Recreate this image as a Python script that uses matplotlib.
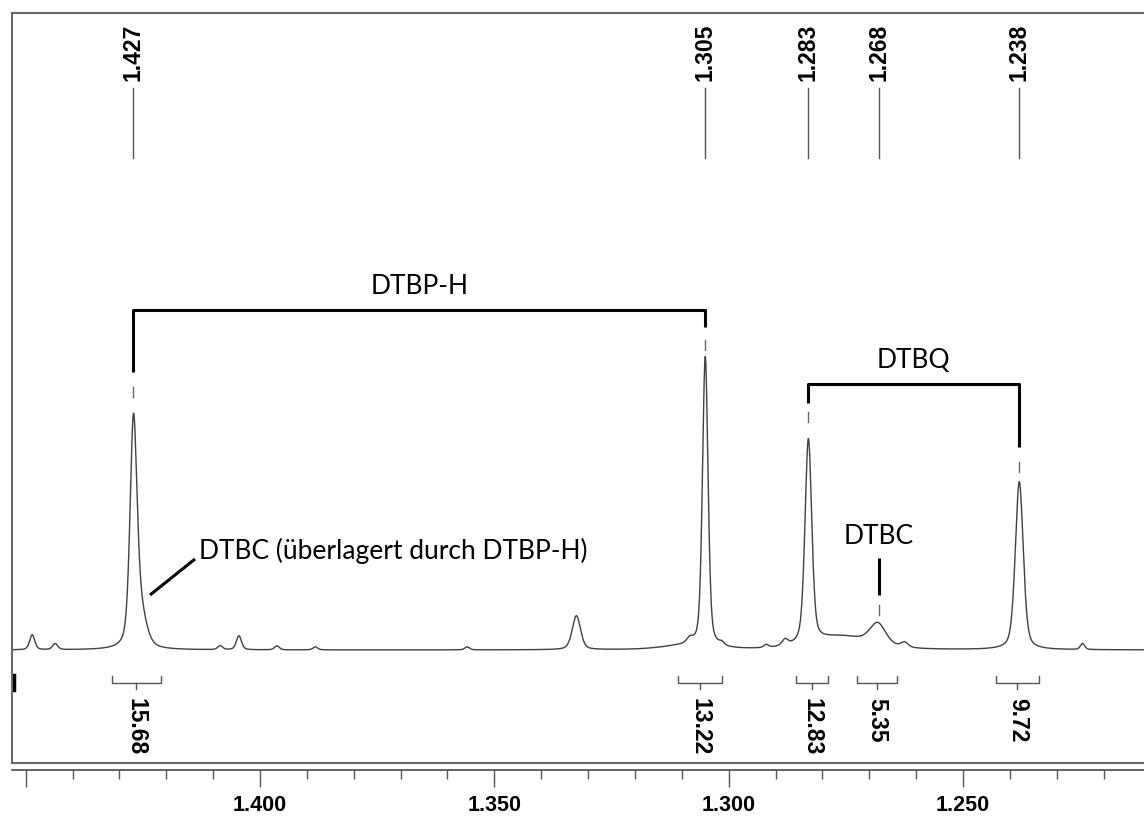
import numpy as np
import matplotlib
matplotlib.use("Agg")
import matplotlib.pyplot as plt
from matplotlib.transforms import blended_transform_factory

# ---------------- data ----------------
# Resolved signals of the 1H spectrum (chemical shift in ppm, intensity in a.u., FWHM in ppm)
peak_ppm = [1.4270, 1.4258, 1.3050, 1.2830, 1.2682, 1.2760, 1.2380, 1.3325, 1.3090]
peak_height = [210, 40, 290, 204, 21, 13, 168, 34, 4]
peak_fwhm = [0.0017, 0.0032, 0.0014, 0.0017, 0.0040, 0.0150, 0.0020, 0.0021, 0.0120]

# Small impurity / noise signals
minor_ppm = [1.4486, 1.4437, 1.4085, 1.4045, 1.3964, 1.3882, 1.3558, 1.3083, 1.3015,
             1.2920, 1.2880, 1.2625, 1.2245]
minor_height = [15, 6, 4, 14, 4, 3, 3, 5, 3, 3, 6, 5, 6]
minor_fwhm = [0.0013, 0.0013, 0.0012, 0.0013, 0.0012, 0.0012, 0.0012, 0.0015, 0.0012,
              0.0012, 0.0015, 0.0018, 0.0011]

# Peak picking labels
pick_ppm = [1.427, 1.305, 1.283, 1.268, 1.238]
pick_labels = ["1.427", "1.305", "1.283", "1.268", "1.238"]

# Integrals: (from, to) ppm and values
integral_from = [1.4316, 1.3108, 1.2856, 1.2726, 1.2430]
integral_to = [1.4211, 1.3014, 1.2788, 1.2641, 1.2338]
integral_values = ["15.68", "13.22", "12.83", "5.35", "9.72"]

# Chemical shift axis
major_ticks = [1.45, 1.40, 1.35, 1.30, 1.25]
major_labels = ["", "1.400", "1.350", "1.300", "1.250"]
minor_ticks = [1.44, 1.43, 1.42, 1.41, 1.39, 1.38, 1.37, 1.36, 1.34, 1.33, 1.32, 1.31,
               1.29, 1.28, 1.27, 1.26, 1.24, 1.23, 1.22]

# Assignments
dtbph_pair = [1.427, 1.305]
dtbq_pair = [1.283, 1.238]
dtbc_ppm = 1.268

# ---------------- figure ----------------
W, H = 1144, 816
fig = plt.figure(figsize=(W / 100, H / 100), dpi=100)
fig.patch.set_facecolor("white")

PX_PER_PPM = 4687.0


def ppm_at(px):
    return 1.400 - (px - 260) / PX_PER_PPM


x_left, x_right = ppm_at(12), ppm_at(1150)

ax = fig.add_axes([12 / W, 1 - 763 / H, (1150 - 12) / W, (763 - 13) / H])
ax.set_xlim(x_left, x_right)
ax.set_ylim(-113, 637)
ax.set_xticks([])
ax.set_yticks([])
for side in ("top", "left", "bottom"):
    ax.spines[side].set_color("#6a6a6a")
    ax.spines[side].set_linewidth(1.5)
ax.spines["right"].set_visible(False)


def pvoigt(x, x0, h, fwhm, eta=0.4):
    g = np.exp(-4 * np.log(2) * ((x - x0) / fwhm) ** 2)
    lo = 1.0 / (1.0 + (2 * (x - x0) / fwhm) ** 2)
    return h * (eta * lo + (1 - eta) * g)


x = np.linspace(x_left, x_right, 8000)
y = np.zeros_like(x)
for p, h, w in zip(peak_ppm + minor_ppm, peak_height + minor_height, peak_fwhm + minor_fwhm):
    y += pvoigt(x, p, h, w)
ax.plot(x, y, color="#404040", lw=1.0)

label_font = dict(family="Liberation Sans", size=16.5, weight="bold")
tick_font = dict(family="Liberation Sans", size=15.5, weight="bold")
note_font = dict(family="Lato", size=19)

# peak picking labels and lines
for p, lab in zip(pick_ppm, pick_labels):
    ax.plot([p, p], [492, 562], color="#555555", lw=1.0)
    ax.text(p, 598, lab, rotation=90, ha="center", va="center", color="black", **label_font)

# integrals
for a, b, v in zip(integral_from, integral_to, integral_values):
    mid = 0.5 * (a + b)
    ax.plot([a, a, b, b], [-26, -33, -33, -26], color="#555555", lw=1.0)
    ax.plot([mid, mid], [-33, -39], color="#555555", lw=1.0)
    ax.text(mid, -48, v, rotation=-90, ha="center", va="top", color="black", **label_font)

# short integral trace stub at the left border
trans = blended_transform_factory(ax.transAxes, ax.transData)
ax.plot([0.0015, 0.0015], [-25, -40], transform=trans, color="black", lw=2.5, clip_on=False)

# assignment brackets
blw = 2.2
ax.plot([dtbph_pair[0], dtbph_pair[0], dtbph_pair[1], dtbph_pair[1]], [278, 340, 340, 323],
        color="black", lw=blw, solid_capstyle="butt")
ax.plot([dtbph_pair[0]] * 2, [253, 263], color="#666666", lw=1.0)
ax.plot([dtbph_pair[1]] * 2, [300, 310], color="#666666", lw=1.0)
ax.text(np.mean(dtbph_pair), 364, "DTBP-H", ha="center", va="center", color="black", **note_font)

ax.plot([dtbq_pair[0], dtbq_pair[0], dtbq_pair[1], dtbq_pair[1]], [247, 266, 266, 203],
        color="black", lw=blw, solid_capstyle="butt")
ax.plot([dtbq_pair[0]] * 2, [228, 238], color="#666666", lw=1.0)
ax.plot([dtbq_pair[1]] * 2, [178, 188], color="#666666", lw=1.0)
ax.text(ppm_at(913), 289, "DTBQ", ha="center", va="center", color="black", **note_font)

ax.plot([dtbc_ppm] * 2, [55, 92], color="black", lw=blw, solid_capstyle="butt")
ax.plot([dtbc_ppm] * 2, [35, 45], color="#666666", lw=1.0)
ax.text(dtbc_ppm, 114, "DTBC", ha="center", va="center", color="black", **note_font)

ax.plot([ppm_at(195), ppm_at(150)], [91, 55], color="black", lw=blw, solid_capstyle="butt")
ax.text(ppm_at(199), 99, "DTBC (überlagert durch DTBP-H)", ha="left", va="center",
        color="black", **note_font)

# chemical shift scale below the frame
sx = fig.add_axes([12 / W, 1 - 770 / H, (1150 - 12) / W, 0.0001])
sx.set_xlim(x_left, x_right)
sx.set_yticks([])
for side in ("top", "left", "right"):
    sx.spines[side].set_visible(False)
sx.spines["bottom"].set_color("#4a4a4a")
sx.spines["bottom"].set_linewidth(1.2)
sx.set_xticks(major_ticks)
sx.set_xticklabels(major_labels, **tick_font)
sx.set_xticks(minor_ticks, minor=True)
sx.tick_params(which="major", direction="out", length=12, width=1.0, color="#555555", pad=6)
sx.tick_params(which="minor", direction="out", length=6.5, width=1.0, color="#555555")

fig.savefig("out.png", dpi=100, facecolor="white")
